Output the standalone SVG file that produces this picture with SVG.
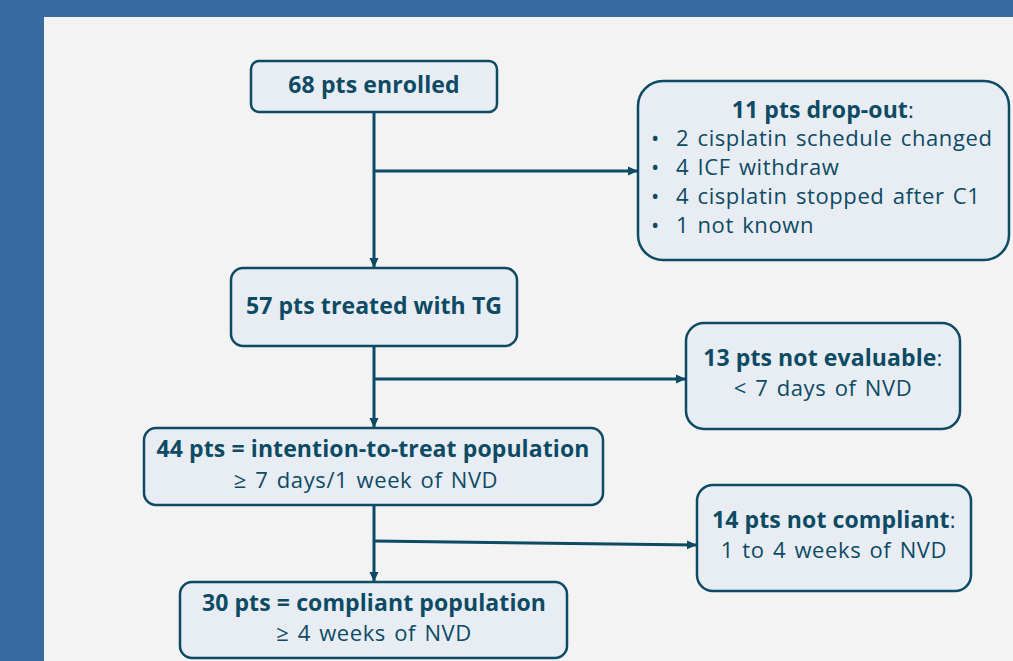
<svg xmlns="http://www.w3.org/2000/svg" width="1013" height="661" viewBox="0 0 1013 661">
<defs>
<marker id="ah" markerWidth="10" markerHeight="10" refX="9" refY="5" orient="auto" markerUnits="userSpaceOnUse">
<path d="M0,0.5 L10,5 L0,9.5 Z" fill="#0d4a63"/>
</marker>
<style>
.box{fill:#e8edf4;stroke:#0d4a63;stroke-width:2.5}
.t{font-family:"Open Sans","Noto Sans",sans-serif;font-size:22px;fill:#0d4a63;letter-spacing:0.6px;word-spacing:2px}
.b{font-weight:bold;font-size:23px;letter-spacing:0.1px;word-spacing:0}
.c{text-anchor:middle}
.ln{stroke:#0d4a63;stroke-width:3;fill:none}
</style>
</defs>
<rect x="0" y="0" width="1013" height="661" fill="#376ba0"/>
<rect x="44" y="17" width="969" height="644" fill="#f3f3f3"/>
<g id="connectors">
<line class="ln" x1="374" y1="112" x2="374" y2="267" marker-end="url(#ah)"/>
<line class="ln" x1="374" y1="171" x2="637" y2="171" marker-end="url(#ah)"/>
<line class="ln" x1="374" y1="346" x2="374" y2="427" marker-end="url(#ah)"/>
<line class="ln" x1="374" y1="379" x2="685" y2="379" marker-end="url(#ah)"/>
<line class="ln" x1="374" y1="505" x2="374" y2="581" marker-end="url(#ah)"/>
<line class="ln" x1="374" y1="541" x2="696" y2="545" marker-end="url(#ah)"/>
</g>
<g id="n68">
<rect class="box" x="251" y="61" width="246" height="51" rx="8"/>
<text class="t b c" x="374" y="93">68 pts enrolled</text>
</g>
<g id="n11">
<rect class="box" x="638" y="81" width="371" height="179" rx="25"/>
<text class="t c" x="823" y="118"><tspan class="b">11 pts drop-out</tspan>:</text>
<text class="t" x="651" y="146">•</text><text class="t" x="676" y="146">2 cisplatin schedule changed</text>
<text class="t" x="651" y="175">•</text><text class="t" x="676" y="175">4 ICF withdraw</text>
<text class="t" x="651" y="204">•</text><text class="t" x="676" y="204">4 cisplatin stopped after C1</text>
<text class="t" x="651" y="233">•</text><text class="t" x="676" y="233">1 not known</text>
</g>
<g id="n57">
<rect class="box" x="231" y="268" width="286" height="78" rx="12"/>
<text class="t b c" x="374" y="314">57 pts treated with TG</text>
</g>
<g id="n13">
<rect class="box" x="686" y="323" width="274" height="106" rx="18"/>
<text class="t c" x="823" y="366"><tspan class="b">13 pts not evaluable</tspan>:</text>
<text class="t c" x="823" y="396">&lt; 7 days of NVD</text>
</g>
<g id="n44">
<rect class="box" x="144" y="428" width="459" height="77" rx="12"/>
<text class="t b c" x="373" y="457">44 pts = intention-to-treat population</text>
<text class="t c" x="366" y="488">≥ 7 days/1 week of NVD</text>
</g>
<g id="n14">
<rect class="box" x="697" y="485" width="274" height="106" rx="16"/>
<text class="t c" x="834" y="528"><tspan class="b">14 pts not compliant</tspan>:</text>
<text class="t c" x="834" y="558">1 to 4 weeks of NVD</text>
</g>
<g id="n30">
<rect class="box" x="180" y="582" width="387" height="76" rx="12"/>
<text class="t b c" x="374" y="611">30 pts = compliant population</text>
<text class="t c" x="374" y="641">≥ 4 weeks of NVD</text>
</g>
</svg>
